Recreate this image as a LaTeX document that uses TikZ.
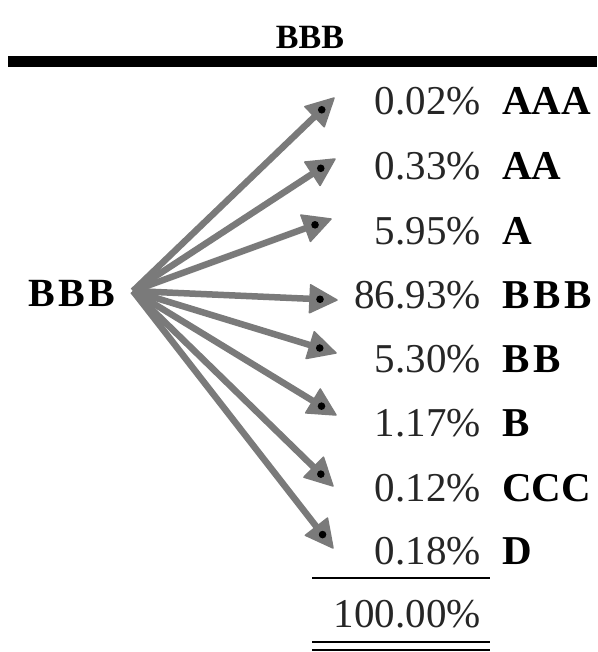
\documentclass[tikz,border=0pt]{standalone}
\usepackage{fontspec}
\setmainfont{Liberation Serif}
\usetikzlibrary{calc}
\definecolor{arrgray}{HTML}{7A7A7A}
\definecolor{numgray}{HTML}{262626}
\tikzset{
  pct/.style={font=\fontsize{41}{48}\selectfont, text=numgray, inner sep=0pt, anchor=base east},
  rating/.style={font=\fontsize{41}{48}\selectfont\bfseries, inner sep=0pt, anchor=base west},
  shaft/.style={draw=arrgray, line width=6.5pt},
  headtri/.style={fill=arrgray, draw=arrgray, line width=1.5pt, line join=round},
  headdot/.style={fill=black, draw=none},
  rule/.style={line width=2.5pt, black},
}
\begin{document}
\begin{tikzpicture}[x=1pt,y=-1pt]
\useasboundingbox (0,0) rectangle (597,652);
% title and thick rule
\node[font=\fontsize{34}{40}\selectfont\bfseries, inner sep=0pt, anchor=base] (title) at (310,49) {BBB};
\coordinate (hl) at (8,62);
\coordinate (hr) at (597,62);
\draw[line width=11pt, black] (hl) -- (hr);
% left label
\node[font=\fontsize{40}{48}\selectfont\bfseries, inner sep=0pt, anchor=base east] (L) at (115,306) {B\hspace{3pt}B\hspace{3pt}B};
\coordinate (o) at (133,291);
% percentages
\node[pct] (p1) at (481,115) {0.02\%};
\node[pct] (p2) at (481,180) {0.33\%};
\node[pct] (p3) at (481,244) {5.95\%};
\node[pct] (p4) at (481,308) {86.93\%};
\node[pct] (p5) at (481,372) {5.30\%};
\node[pct] (p6) at (481,436) {1.17\%};
\node[pct] (p7) at (481,501) {0.12\%};
\node[pct] (p8) at (481,564) {0.18\%};
\node[pct] (tot) at (481,627) {100.00\%};
% ratings
\node[rating] (r1) at (502,115) {AAA};
\node[rating] (r2) at (502,180) {AA};
\node[rating] (r3) at (502,244) {A};
\node[rating] (r4) at (502,308) {B\hspace{4pt}B\hspace{4pt}B};
\node[rating] (r5) at (502,372) {B\hspace{4pt}B};
\node[rating] (r6) at (502,436) {B};
\node[rating] (r7) at (502,501) {CCC};
\node[rating] (r8) at (502,564) {D};
% arrow tips
\coordinate (t1) at (334,98);
\coordinate (t2) at (335,159);
\coordinate (t3) at (331,219);
\coordinate (t4) at (337,300);
\coordinate (t5) at (336,353);
\coordinate (t6) at (336,415);
\coordinate (t7) at (333,486);
\coordinate (t8) at (333,548);
\foreach \i in {1,...,8} {
  \coordinate (b\i) at ($(t\i)!27pt!(o)$);
  \coordinate (c\i) at ($(b\i)!14pt!90:(t\i)$);
  \coordinate (d\i) at ($(b\i)!14pt!-90:(t\i)$);
  \draw[shaft] (o) -- ($(t\i)!20pt!(o)$);
  \filldraw[headtri] (t\i) -- (c\i) -- (d\i) -- cycle;
  \fill[headdot] ($(t\i)!17pt!(o)$) circle (3.8pt);
}
% sum rules
\coordinate (s1) at (312,578); \coordinate (s2) at (490,578);
\coordinate (d1) at (312,642); \coordinate (d2) at (490,642);
\coordinate (e1) at (312,650); \coordinate (e2) at (490,650);
\draw[rule] (s1) -- (s2);
\draw[rule] (d1) -- (d2);
\draw[rule] (e1) -- (e2);
\end{tikzpicture}
\end{document}
